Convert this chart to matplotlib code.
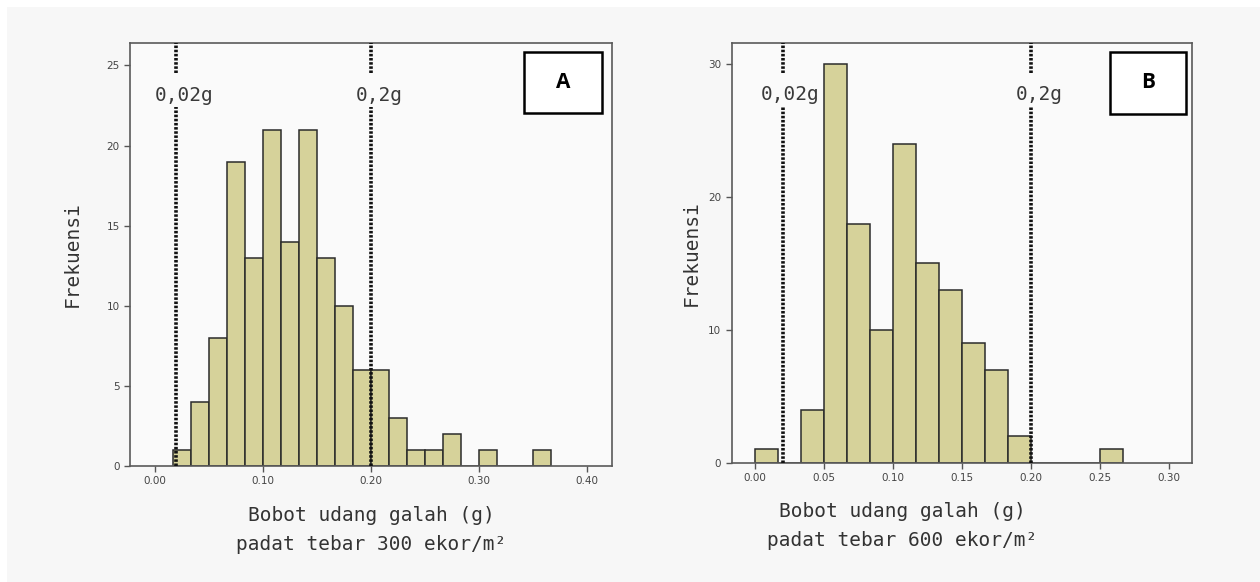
import matplotlib.pyplot as plt
from matplotlib.patches import Rectangle

# bin width used in both histograms (SPSS style, 1/60 g)
bin_w = 1 / 60

# panel A: 300 ekor/m2, first bin starts at 1/60
counts_a = [1, 4, 8, 19, 13, 21, 14, 21, 13, 10, 6, 6, 3, 1, 1, 2, 0, 1, 0, 0, 1]
start_bin_a = 1
xticks_a = [0.00, 0.10, 0.20, 0.30, 0.40]
yticks_a = [0, 5, 10, 15, 20, 25]

# panel B: 600 ekor/m2, first bin starts at 0
counts_b = [1, 0, 4, 30, 18, 10, 24, 15, 13, 9, 7, 2, 0, 0, 0, 1]
start_bin_b = 0
xticks_b = [0.00, 0.05, 0.10, 0.15, 0.20, 0.25, 0.30]
yticks_b = [0, 10, 20, 30]

limits = [0.02, 0.2]
limit_labels = ['0,02g', '0,2g']

mono = 'DejaVu Sans Mono'
bar_color = '#d6d29a'

fig = plt.figure(figsize=(12.6, 5.82), dpi=100, facecolor='white')
fig.patches.append(Rectangle((7 / 1260, 0), 1, 575 / 582, transform=fig.transFigure,
                             facecolor='#f7f7f7', edgecolor='none', zorder=-10))

ax_a = fig.add_axes([0.1032, 0.1993, 0.3825, 0.7268])
ax_b = fig.add_axes([0.5807, 0.2050, 0.3653, 0.7211])

panels = [
    (ax_a, counts_a, start_bin_a, xticks_a, yticks_a, (-0.023, 0.423), 26.4,
     'A', 300, (0.817, 0.835, 0.162, 0.144), -0.100, 0.50),
    (ax_b, counts_b, start_bin_b, xticks_b, yticks_b, (-0.0169, 0.3167), 31.6,
     'B', 600, (0.823, 0.831, 0.163, 0.148), -0.067, 0.37),
]

for ax, counts, start, xt, yt, xlim, ytop, tag, density, box, ylab_x, xlab_x in panels:
    ax.set_facecolor('#fafafa')
    lefts = [(start + i) * bin_w for i in range(len(counts))]
    ax.bar(lefts, counts, width=bin_w, align='edge', color=bar_color,
           edgecolor='#2b2b2b', linewidth=1.1, zorder=2)

    # limit lines, broken where the label sits
    for xv, lab in zip(limits, limit_labels):
        for lo, hi in [(0, 0.848), (0.929, 1.0)]:
            ax.axvline(xv, ymin=lo, ymax=hi, color='#111111', linewidth=2.6,
                       linestyle=(0, (0.7, 0.45)), zorder=3)
        ax.annotate(lab, xy=(xv, 0.877), xycoords=('data', 'axes fraction'),
                    xytext=(8, 0), textcoords='offset pixels',
                    ha='center', va='center', fontsize=14, family=mono, color='#3a3a3a')

    ax.set_xlim(*xlim)
    ax.set_ylim(0, ytop)
    ax.set_xticks(xt)
    ax.set_xticklabels([f'{v:.2f}' for v in xt])
    ax.set_yticks(yt)
    ax.tick_params(direction='out', length=4, width=1, colors='#555555',
                   labelsize=7.5, labelcolor='#444444')
    for s in ax.spines.values():
        s.set_color('#5a5a5a')
        s.set_linewidth(1.2)

    ax.set_ylabel('Frekuensi', family=mono, fontsize=14, color='#333333')
    ax.yaxis.set_label_coords(ylab_x, 0.5)

    ax.text(xlab_x, -0.116, 'Bobot udang galah (g)', transform=ax.transAxes,
            ha='center', va='center', family=mono, fontsize=14, color='#333333')
    ax.text(xlab_x, -0.186, f'padat tebar {density} ekor/m²', transform=ax.transAxes,
            ha='center', va='center', family=mono, fontsize=14, color='#333333')

    bx, by, bw, bh = box
    ax.add_patch(Rectangle((bx, by), bw, bh, transform=ax.transAxes, facecolor='white',
                           edgecolor='black', linewidth=1.8, zorder=4))
    ax.text(bx + bw / 2, by + bh / 2, tag, transform=ax.transAxes, ha='center',
            va='center', fontsize=15, fontweight='bold', family='Open Sans', zorder=5)

fig.savefig('out.png', dpi=100, facecolor=fig.get_facecolor())
